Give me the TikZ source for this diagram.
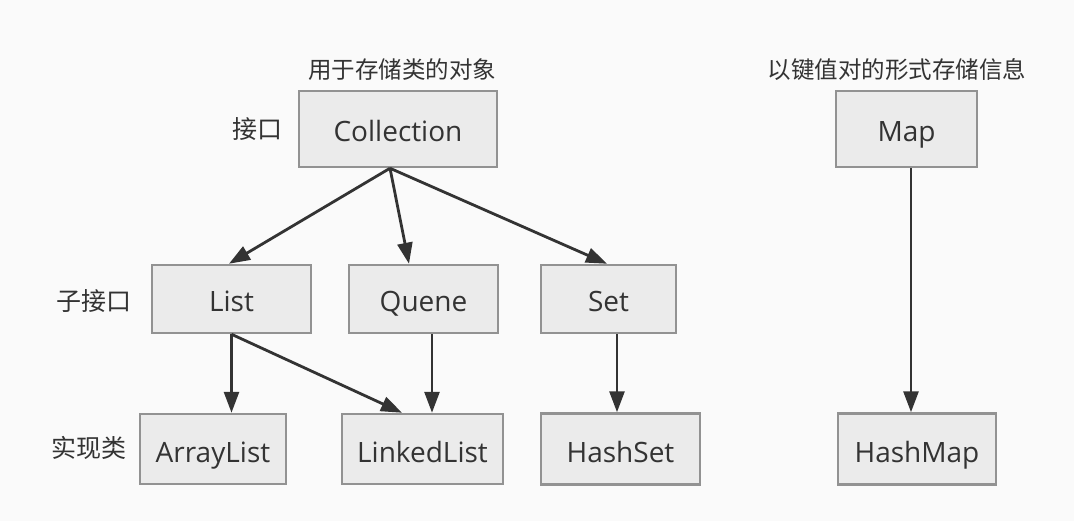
\documentclass[tikz,border=0pt]{standalone}
\usepackage{fontspec}
\setmainfont{Open Sans}
\newfontfamily\cjk{Noto Sans CJK SC}
\usetikzlibrary{arrows.meta}
\definecolor{bgcol}{HTML}{FAFAFA}
\definecolor{boxfill}{HTML}{EBEBEB}
\definecolor{boxline}{HTML}{929292}
\definecolor{ink}{HTML}{333333}
\tikzset{
  cls/.style={draw=boxline, fill=boxfill, line width=2.5pt, text=ink,
    font=\fontsize{28}{32}\selectfont, inner sep=0pt,
    text height=26pt, text depth=0pt},
  tag/.style={text=ink, font=\cjk\fontsize{25}{30}\selectfont},
  note/.style={text=ink, font=\cjk\fontsize{23.5}{28}\selectfont},
  arr/.style={draw=ink, line width=2.8pt, -{Triangle[length=21pt,width=15pt]}}
}
\begin{document}
\begin{tikzpicture}[x=1pt,y=-1pt]
	\fill[bgcol] (0,0) rectangle (1074,521);
	\useasboundingbox (0,0) rectangle (1074,521);
	% interfaces
	\node[cls, minimum width=198, minimum height=76] (coll) at (398,129) {Collection};
	\node[cls, minimum width=141, minimum height=76] (map) at (906.5,129) {Map};
	\node[note] (collnote) at (402,70) {用于存储类的对象};
	\node[note] (mapnote) at (897,70) {以键值对的形式存储信息};
	\node[tag] (lvl1) at (257,129) {接口};
	% sub-interfaces
	\node[cls, minimum width=159, minimum height=68] (list) at (231.5,299) {List};
	\node[cls, minimum width=149, minimum height=68] (quene) at (423.5,299) {Quene};
	\node[cls, minimum width=135, minimum height=68] (set) at (608.5,299) {Set};
	\node[tag] (lvl2) at (94,301) {子接口};
	% implementations
	\node[cls, minimum width=146, minimum height=70] (arrlist) at (213,449) {ArrayList};
	\node[cls, minimum width=161, minimum height=70] (linked) at (422.5,449) {LinkedList};
	\node[cls, minimum width=159, minimum height=71] (hset) at (620.5,449) {HashSet};
	\node[cls, minimum width=158, minimum height=71] (hmap) at (917,449) {HashMap};
	\node[tag] (lvl3) at (89,448) {实现类};
	% connectors
	\draw[arr] ([xshift=-8]coll.south) -- ([xshift=-2.5]list.north);
	\draw[arr] ([xshift=-8]coll.south) -- ([xshift=-14.5]quene.north);
	\draw[arr] ([xshift=-8]coll.south) -- ([xshift=-1.5]set.north);
	\draw[arr] (list.south) -- (list.south |- arrlist.north);
	\draw[arr] (list.south) -- ([xshift=-20.5]linked.north);
	\draw[arr] ([xshift=8.5]quene.south) -- ([xshift=8.5]quene.south |- linked.north);
	\draw[arr] ([xshift=8.5]set.south) -- ([xshift=8.5]set.south |- hset.north);
	\draw[arr] ([xshift=4.5]map.south) -- ([xshift=4.5]map.south |- hmap.north);
\end{tikzpicture}
\end{document}
